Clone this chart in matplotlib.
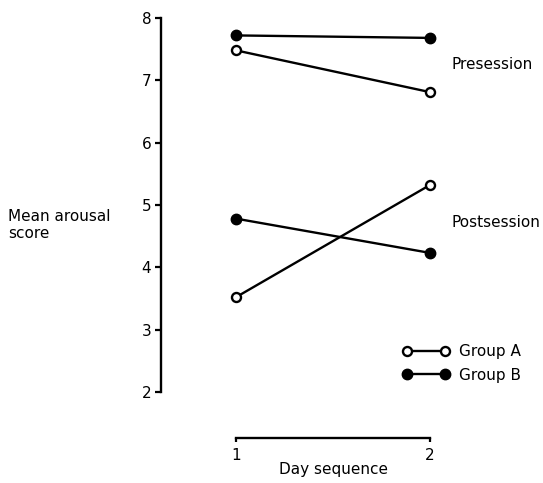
import matplotlib.pyplot as plt

# values
days = [1, 2]
pre_a = [7.48, 6.81]
pre_b = [7.72, 7.68]
post_a = [3.52, 5.32]
post_b = [4.78, 4.23]
yticks = [2, 3, 4, 5, 6, 7, 8]

fs = 11

fig = plt.figure(figsize=(5.43, 4.83), dpi=100)
ax = fig.add_axes([0.2965, 0.0932, 0.4954, 0.8696])

open_style = dict(color='black', lw=1.7, marker='o', ms=6.5, mfc='white', mec='black', mew=1.7)
fill_style = dict(color='black', lw=1.7, marker='o', ms=7.5, mfc='black', mec='black')

la, = ax.plot(days, pre_a, **open_style, clip_on=False)
lb, = ax.plot(days, pre_b, **fill_style, clip_on=False)
ax.plot(days, post_a, **open_style, clip_on=False)
ax.plot(days, post_b, **fill_style, clip_on=False)

ax.set_xlim(0.613, 2)
ax.set_ylim(1.26, 8)

for s in ['top', 'right']:
    ax.spines[s].set_visible(False)
ax.spines['left'].set_bounds(2, 8)
ax.spines['bottom'].set_bounds(1, 2)
ax.spines['left'].set_linewidth(1.7)
ax.spines['bottom'].set_linewidth(1.7)

ax.set_yticks(yticks)
ax.set_xticks(days)
ax.tick_params(axis='y', direction='out', length=4, width=1.6, labelsize=fs, pad=3)
ax.tick_params(axis='x', direction='out', length=3, width=1.6, labelsize=fs, pad=4)

ax.set_xlabel('Day sequence', fontsize=fs)
ax.xaxis.set_label_coords((333 - 161) / (430 - 161), -0.058)

fig.text(8 / 543, 1 - 225 / 483, 'Mean arousal\nscore', fontsize=fs, ha='left', va='center',
         linespacing=1.1)

ax.text(2.113, 7.25, 'Presession', fontsize=fs, ha='left', va='center', clip_on=False)
ax.text(2.113, 4.71, 'Postsession', fontsize=fs, ha='left', va='center', clip_on=False)

ax.legend([la, lb], ['Group A', 'Group B'], loc='center left', numpoints=2,
          bbox_to_anchor=(402 / 543, 1 - 363.5 / 483), bbox_transform=fig.transFigure,
          frameon=False, fontsize=fs, borderpad=0, borderaxespad=0,
          handlelength=3.1, handletextpad=0.6, labelspacing=0.55)

fig.savefig('out.png', dpi=100)
